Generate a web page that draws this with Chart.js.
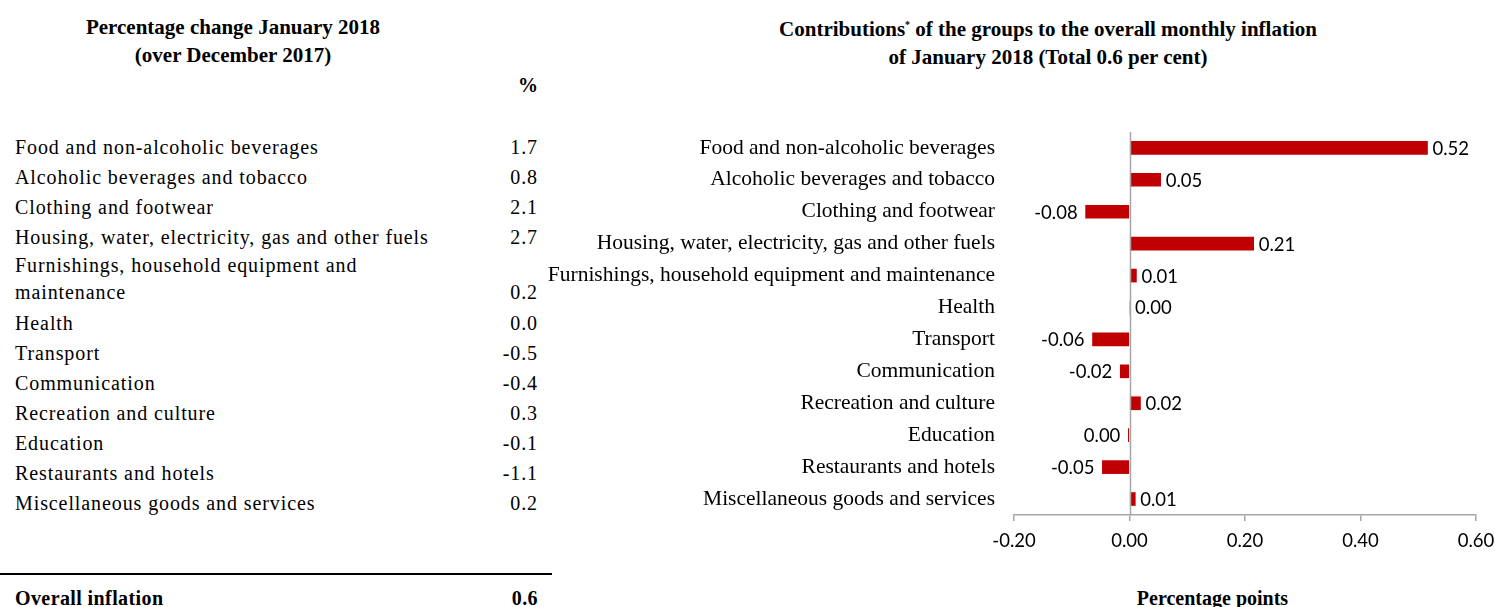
<!DOCTYPE html>
<html>
<head>
<meta charset="utf-8">
<script src="https://cdn.jsdelivr.net/npm/chart.js@4.4.1/dist/chart.umd.min.js"></script>
<style>
  html,body{margin:0;padding:0;background:#fff;}
  body{width:1495px;height:607px;position:relative;overflow:hidden;color:#000;}
  .title{position:absolute;font-family:"Liberation Serif",serif;font-weight:bold;font-size:21px;line-height:28px;text-align:center;}
  #leftTitle{left:0;width:466px;top:13px;}
  #rightTitle{left:748px;width:600px;top:11px;}
  #pct{position:absolute;left:500px;width:38px;top:74px;text-align:right;font-family:"Liberation Serif",serif;font-weight:bold;font-size:20px;}
  #table{position:absolute;left:15px;width:523px;top:132px;font-family:"Liberation Serif",serif;font-size:20px;letter-spacing:0.9px;}
  .row{display:flex;justify-content:space-between;align-items:flex-end;line-height:30px;}
  .row.wrap{line-height:27px;padding-bottom:2px;padding-top:0px;}
  .row .lab{white-space:pre-line;}
  #rule{position:absolute;left:0;width:552px;top:573px;height:2px;background:#000;}
  #overall{position:absolute;left:15px;width:523px;top:584px;display:flex;justify-content:space-between;font-family:"Liberation Serif",serif;font-weight:bold;font-size:20px;line-height:28px;letter-spacing:0.4px;}
  #xTitle{position:absolute;left:1060px;width:305px;top:584px;text-align:center;font-family:"Liberation Serif",serif;font-weight:bold;font-size:20px;line-height:28px;}
  #chartBox{position:absolute;left:540px;top:100px;width:955px;height:507px;}
  sup{font-size:10px;}
</style>
</head>
<body>
<div id="leftTitle" class="title">Percentage change January 2018<br>(over December 2017)</div>
<div id="pct">%</div>
<div id="table"></div>
<div id="rule"></div>
<div id="overall"><span>Overall inflation</span><span>0.6</span></div>
<div id="rightTitle" class="title">Contributions<sup>*</sup> of the groups to the overall monthly inflation<br>of January 2018 (Total 0.6 per cent)</div>
<div id="xTitle">Percentage points</div>
<div id="chartBox"><canvas id="c" width="955" height="507"></canvas></div>
<script>
// ---- Left table data ----
const tableLabels = [
  "Food and non-alcoholic beverages",
  "Alcoholic beverages and tobacco",
  "Clothing and footwear",
  "Housing, water, electricity, gas and other fuels",
  "Furnishings, household equipment and\nmaintenance",
  "Health",
  "Transport",
  "Communication",
  "Recreation and culture",
  "Education",
  "Restaurants and hotels",
  "Miscellaneous goods and services"
];
const tableValues = ["1.7","0.8","2.1","2.7","0.2","0.0","-0.5","-0.4","0.3","-0.1","-1.1","0.2"];

// ---- Chart data ----
const categories = [
  "Food and non-alcoholic beverages",
  "Alcoholic beverages and tobacco",
  "Clothing and footwear",
  "Housing, water, electricity, gas and other fuels",
  "Furnishings, household equipment and maintenance",
  "Health",
  "Transport",
  "Communication",
  "Recreation and culture",
  "Education",
  "Restaurants and hotels",
  "Miscellaneous goods and services"
];
const contributions = [0.516, 0.054, -0.076, 0.215, 0.012, 0.001, -0.064, -0.016, 0.019, -0.002, -0.047, 0.010];
const contributionLabels = ["0.52","0.05","-0.08","0.21","0.01","0.00","-0.06","-0.02","0.02","0.00","-0.05","0.01"];
const xTickValues = [-0.2, 0, 0.2, 0.4, 0.6];

// build table
const tbl = document.getElementById('table');
tableLabels.forEach((l, i) => {
  const r = document.createElement('div');
  r.className = 'row' + (l.indexOf('\n') >= 0 ? ' wrap' : '');
  const a = document.createElement('span'); a.className = 'lab'; a.textContent = l;
  const b = document.createElement('span'); b.textContent = tableValues[i];
  r.appendChild(a); r.appendChild(b); tbl.appendChild(r);
});

const zeroLine = {
  id: 'zeroLine',
  afterDatasetsDraw(chart) {
    const {ctx, chartArea, scales} = chart;
    const x = Math.round(scales.x.getPixelForValue(0)) + 0.5;
    ctx.save();
    ctx.strokeStyle = '#a6a6a6';
    ctx.lineWidth = 1.5;
    ctx.beginPath();
    ctx.moveTo(x, chartArea.top);
    ctx.lineTo(x, chartArea.bottom);
    ctx.stroke();
    ctx.restore();
  }
};
const valueLabels = {
  id: 'valueLabels',
  afterDatasetsDraw(chart) {
    const {ctx} = chart;
    const meta = chart.getDatasetMeta(0);
    ctx.save();
    ctx.font = '18.5px Lato, "Open Sans", sans-serif';
    ctx.fillStyle = '#000';
    ctx.textBaseline = 'middle';
    meta.data.forEach((bar, i) => {
      const v = contributions[i];
      if (v >= 0) { ctx.textAlign = 'left'; ctx.fillText(contributionLabels[i], bar.x + 5, bar.y + 1); }
      else { ctx.textAlign = 'right'; ctx.fillText(contributionLabels[i], bar.x - 8, bar.y + 1); }
    });
    ctx.restore();
  }
};

new Chart(document.getElementById('c'), {
  type: 'bar',
  data: {
    labels: categories,
    datasets: [{
      data: contributions,
      backgroundColor: '#c00000',
      borderWidth: 0,
      barThickness: 13
    }]
  },
  options: {
    indexAxis: 'y',
    responsive: false,
    animation: false,
    layout: {padding: {top: 30, right: 19, left: 0, bottom: 0}},
    plugins: {legend: {display: false}, tooltip: {enabled: false}},
    scales: {
      x: {
        min: -0.2, max: 0.6,
        afterBuildTicks: s => { s.ticks = xTickValues.map(v => ({value: v})); },
        ticks: {
          callback: v => Number(v).toFixed(2),
          font: {family: 'Lato, "Open Sans", sans-serif', size: 18.5},
          color: '#000', padding: 9, maxRotation: 0, autoSkip: false
        },
        grid: {drawOnChartArea: false, drawTicks: true, tickLength: 6, color: '#a6a6a6', lineWidth: 1.5},
        border: {color: '#a6a6a6', width: 1.5},
        afterFit: s => { s.height = 92; s.paddingLeft = 0; s.paddingRight = 0; }
      },
      y: {
        ticks: {
          font: {family: '"Liberation Serif", serif', size: 21.5},
          color: '#000', padding: 19, autoSkip: false
        },
        grid: {display: false, drawTicks: false},
        border: {display: false},
        afterFit: s => { s.width = 474; }
      }
    }
  },
  plugins: [zeroLine, valueLabels]
});
</script>
</body>
</html>
